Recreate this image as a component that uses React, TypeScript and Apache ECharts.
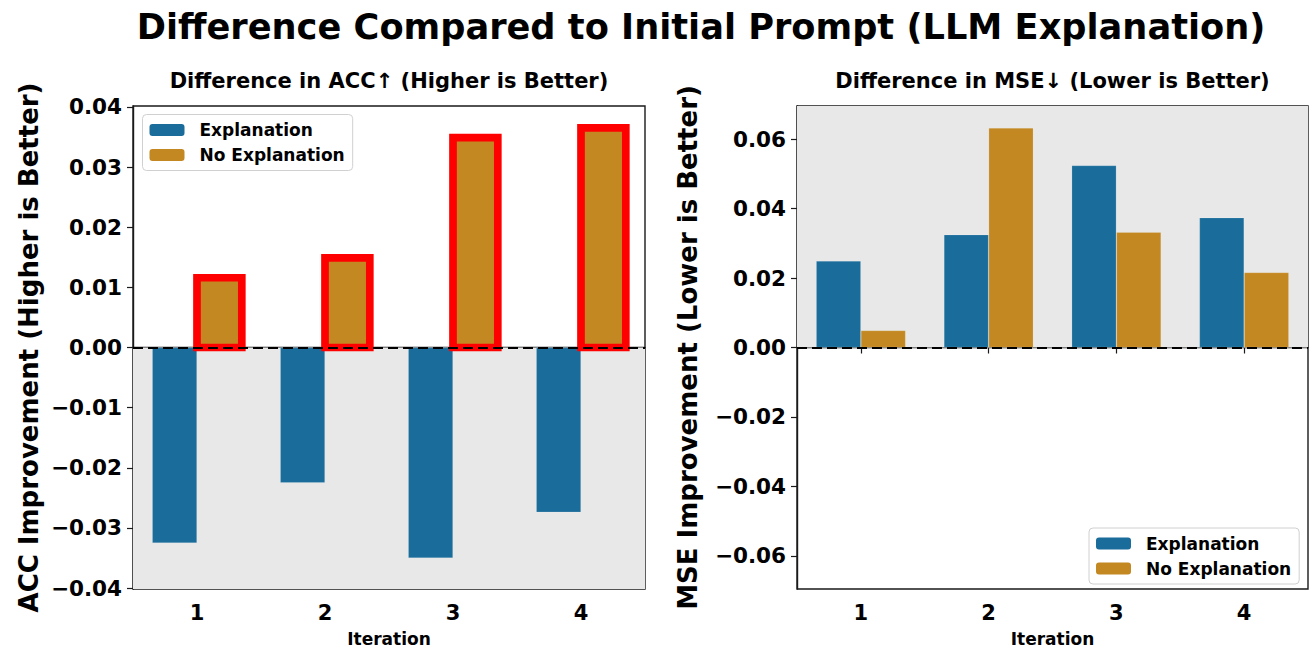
import React, { useEffect, useRef } from "react";
import * as echarts from "echarts";

const CATEGORIES = ["1", "2", "3", "4"];
const SERIES_NAMES = ["Explanation", "No Explanation"];
const ACC_EXPLANATION = [-0.0325, -0.0225, -0.035, -0.0274];
const ACC_NO_EXPLANATION = [0.0116, 0.0149, 0.0349, 0.0365];
const MSE_EXPLANATION = [0.0249, 0.0325, 0.0524, 0.0374];
const MSE_NO_EXPLANATION = [0.0049, 0.0632, 0.0332, 0.0216];
const ACC_TICKS = [-0.04, -0.03, -0.02, -0.01, 0, 0.01, 0.02, 0.03, 0.04];
const MSE_TICKS = [-0.06, -0.04, -0.02, 0, 0.02, 0.04, 0.06];

const BLUE = "#1a6d9b";
const ORANGE = "#c38822";
const SHADE = "#e8e8e8";
const FONT = '"DejaVu Sans", Verdana, sans-serif';

const limitOf = (a: number[], b: number[]) =>
  Math.max(...a.map(Math.abs), ...b.map(Math.abs)) * 1.1;

const fmt = (v: number) => {
  const s = Math.abs(v).toFixed(2);
  return v < -1e-9 ? "\u2212" + s : s;
};

export default function App() {
  const ref = useRef<HTMLDivElement>(null);

  useEffect(() => {
    if (!ref.current) return;
    const chart = echarts.init(ref.current, null, { renderer: "svg" });
    const accLim = limitOf(ACC_EXPLANATION, ACC_NO_EXPLANATION);
    const mseLim = limitOf(MSE_EXPLANATION, MSE_NO_EXPLANATION);

    const xAxis = (gi: number) => ({
      type: "category",
      gridIndex: gi,
      data: CATEGORIES,
      name: "Iteration",
      nameLocation: "middle",
      nameGap: 41,
      nameTextStyle: { fontSize: 17, fontWeight: "bold", color: "#000", fontFamily: FONT },
      axisLine: { show: true, lineStyle: { color: "#1a1a1a", width: 1.4 } },
      axisTick: { show: true, alignWithLabel: true, length: 6, lineStyle: { color: "#1a1a1a", width: 1.2 } },
      axisLabel: { fontSize: 21, fontWeight: "bold", color: "#000", fontFamily: FONT, margin: 13 },
      splitLine: { show: false },
    });

    const yAxis = (gi: number, lim: number, ticks: number[], name: string, gap: number) => ({
      type: "value",
      gridIndex: gi,
      min: -lim,
      max: lim,
      name,
      nameLocation: "middle",
      nameGap: gap,
      nameTextStyle: { fontSize: 26, fontWeight: "bold", color: "#000", fontFamily: FONT },
      axisLine: { show: true, lineStyle: { color: "#1a1a1a", width: 1.4 } },
      axisTick: { show: true, length: 6, customValues: ticks, lineStyle: { color: "#1a1a1a", width: 1.2 } },
      axisLabel: {
        fontSize: 21.5,
        fontWeight: "bold",
        color: "#000",
        fontFamily: FONT,
        margin: 11,
        customValues: ticks,
        formatter: (v: number) => fmt(v),
      },
      splitLine: { show: false },
    });

    const zeroLine = {
      silent: true,
      z: 10,
      symbol: ["none", "none"],
      label: { show: false },
      lineStyle: { color: "#000", type: [10, 5], width: 2 },
      data: [{ yAxis: 0 }],
    };

    const highlight = {
      type: "custom",
      name: "highlight",
      xAxisIndex: 0,
      yAxisIndex: 0,
      z: 3,
      silent: true,
      data: ACC_NO_EXPLANATION.map((v, i) => [i, v]),
      encode: { x: 0, y: 1 },
      renderItem: (params: any, api: any) => {
        const i = api.value(0);
        const v = api.value(1);
        const p0 = api.coord([i, 0]);
        const p1 = api.coord([i, v]);
        const band = api.size([1, 0])[0];
        return {
          type: "rect",
          shape: { x: p0[0], y: p1[1], width: band * 0.35, height: p0[1] - p1[1] },
          style: { fill: "none", stroke: "#ff0000", lineWidth: 7.7 },
        };
      },
    };

    const barStyle = (c: string) => ({
      color: c,
      borderColor: "rgba(255,255,255,0.25)",
      borderWidth: 0.6,
    });

    const legend = (left: number, top: number) => ({
      left,
      top,
      orient: "vertical",
      data: SERIES_NAMES.map((n) => ({ name: n, itemStyle: { borderWidth: 0 } })),
      itemWidth: 35,
      itemHeight: 12,
      itemGap: 8,
      padding: [7, 8, 7, 7],
      borderColor: "#d0d0d0",
      borderWidth: 1,
      borderRadius: 4,
      backgroundColor: "rgba(255,255,255,0.85)",
      selectedMode: false,
      z: 20,
      textStyle: {
        fontSize: 17,
        fontWeight: "bold",
        color: "#000",
        fontFamily: FONT,
        lineHeight: 17,
        padding: [0, 0, 0, 10],
      },
    });

    const titleText = (x: number, y: number, text: string, size: number) => ({
      type: "text",
      x,
      y,
      style: {
        text,
        fontSize: size,
        fontWeight: "bold",
        fontFamily: FONT,
        fill: "#000",
        align: "center",
        verticalAlign: "middle",
        textAlign: "center",
        textVerticalAlign: "middle",
      },
    });

    chart.setOption({
      animation: false,
      backgroundColor: "#fff",
      textStyle: { fontFamily: FONT },
      graphic: [
        titleText(701, 26, "Difference Compared to Initial Prompt (LLM Explanation)", 35.2),
        titleText(389, 81, "Difference in ACC\u2191 (Higher is Better)", 21),
        titleText(1052.5, 81, "Difference in MSE\u2193 (Lower is Better)", 21),
      ],
      grid: [
        { left: 133, top: 106, width: 512, height: 487, show: true, borderColor: "#1a1a1a", borderWidth: 1.4, backgroundColor: "#fff" },
        { left: 797, top: 106, width: 511, height: 487, show: true, borderColor: "#1a1a1a", borderWidth: 1.4, backgroundColor: "#fff" },
      ],
      legend: [legend(142.5, 114.5), legend(1089, 528)],
      xAxis: [xAxis(0), xAxis(1)],
      yAxis: [
        yAxis(0, accLim, ACC_TICKS, "ACC Improvement (Higher is Better)", 91),
        yAxis(1, mseLim, MSE_TICKS, "MSE Improvement (Lower is Better)", 96),
      ],
      series: [
        {
          type: "bar",
          name: SERIES_NAMES[0],
          xAxisIndex: 0,
          yAxisIndex: 0,
          data: ACC_EXPLANATION,
          barGap: "0%",
          barCategoryGap: "30%",
          itemStyle: barStyle(BLUE),
          markArea: {
            silent: true,
            z: 1,
            itemStyle: { color: SHADE },
            data: [[{ yAxis: 0 }, { yAxis: -accLim }]],
          },
          markLine: zeroLine,
        },
        {
          type: "bar",
          name: SERIES_NAMES[1],
          xAxisIndex: 0,
          yAxisIndex: 0,
          data: ACC_NO_EXPLANATION,
          barGap: "0%",
          barCategoryGap: "30%",
          itemStyle: barStyle(ORANGE),
        },
        highlight,
        {
          type: "bar",
          name: SERIES_NAMES[0],
          xAxisIndex: 1,
          yAxisIndex: 1,
          data: MSE_EXPLANATION,
          barGap: "0%",
          barCategoryGap: "30%",
          itemStyle: barStyle(BLUE),
          markArea: {
            silent: true,
            z: 1,
            itemStyle: { color: SHADE },
            data: [[{ yAxis: 0 }, { yAxis: mseLim }]],
          },
          markLine: zeroLine,
        },
        {
          type: "bar",
          name: SERIES_NAMES[1],
          xAxisIndex: 1,
          yAxisIndex: 1,
          data: MSE_NO_EXPLANATION,
          barGap: "0%",
          barCategoryGap: "30%",
          itemStyle: barStyle(ORANGE),
        },
      ],
    });

    return () => chart.dispose();
  }, []);

  return (
    <div
      ref={ref}
      style={{ position: "absolute", left: 0, top: 0, width: 1311, height: 652 }}
    />
  );
}
